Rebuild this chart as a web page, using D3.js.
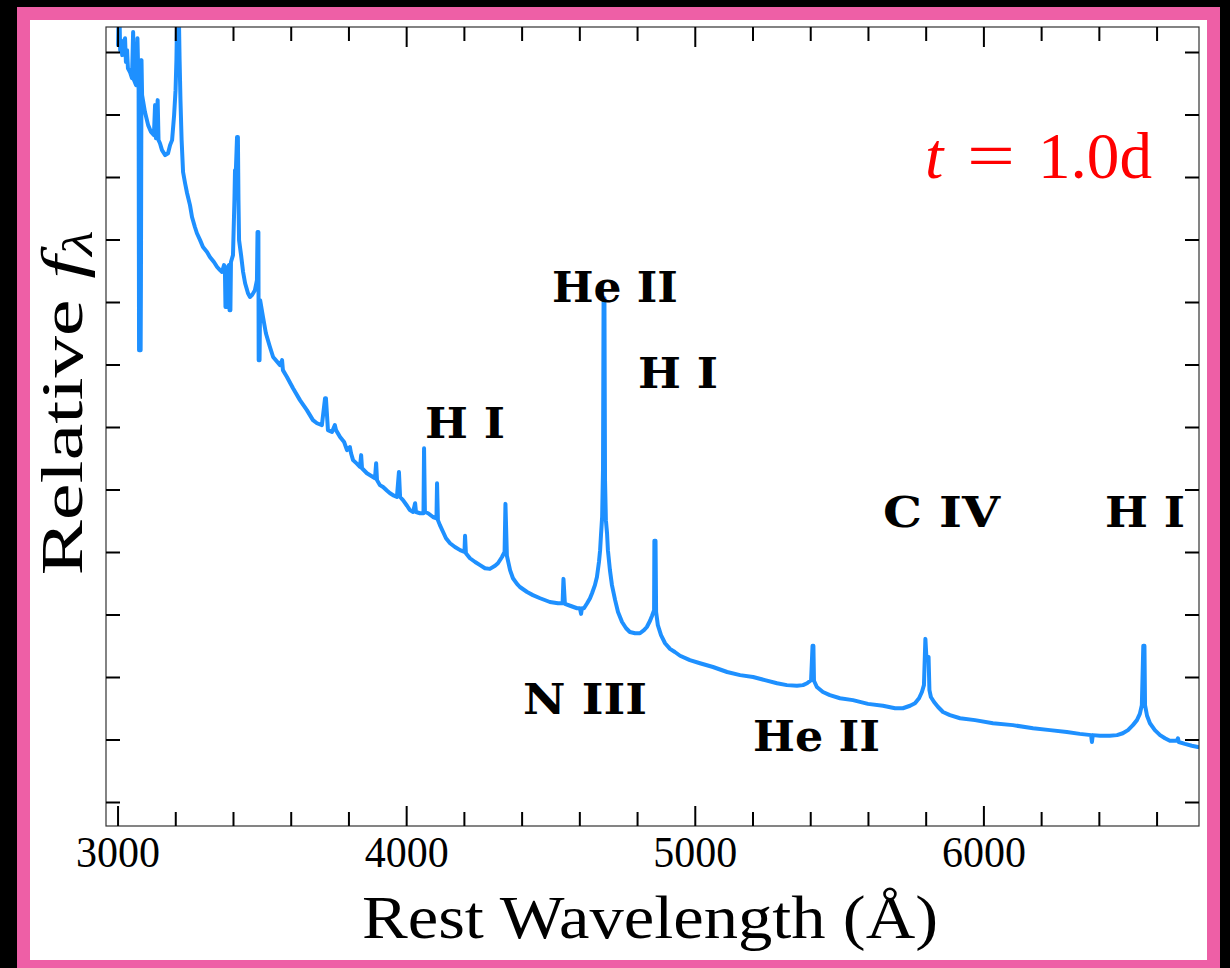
<!DOCTYPE html>
<html><head><meta charset="utf-8">
<script src="https://cdn.jsdelivr.net/npm/d3@7"></script>
<style>body{margin:0;background:#000;} svg{display:block}</style>
</head><body><svg id="c" width="1230" height="968"></svg>
<script>
// ---- data (rest wavelength in Å, relative flux in axis units) ----
const wavelength = [3002,3005,3009,3012,3016,3023,3026,3029,3033,3036,3043,3050,3054,3057,3064,3069,3073,3074.5,3080,3081,3083,3085,3095,3106,3116,3126,3130,3133,3139,3142,3147,3154,3165,3175,3182,3189,3196,3201,3204,3208,3211,3215,3218,3222,3227,3234,3241,3251,3258,3268,3275,3286,3296,3310,3320,3334,3345,3355,3362,3369,3372,3374,3378,3379,3386,3388,3391,3393,3400,3405,3407,3410,3414,3417,3419,3421,3428,3435,3442,3452,3459,3466,3476,3483,3485,3488,3489,3492,3494,3504,3514,3528,3539,3563,3570,3573,3587,3608,3632,3656,3677,3691,3708,3719,3722,3729,3743,3753,3757,3771,3785,3795,3805,3809,3816,3830,3840,3844,3847,3864,3878,3892,3896,3899,3909,3920,3934,3944,3958,3968,3975,3979,3989,4003,4013,4024,4031,4034,4048,4060,4062,4065,4076,4093,4105,4107,4110,4117,4128,4138,4152,4169,4187,4202,4204,4207,4221,4239,4256,4273,4290,4308,4318,4332,4341,4344,4349,4360,4370,4384,4394,4419,4439,4464,4498,4526,4542,4545,4550,4568,4592,4602,4606,4609,4616,4627,4637,4644,4654,4661,4668,4672,4675,4679,4682,4684,4687,4689,4692,4696,4699,4706,4713,4724,4734,4748,4762,4775,4793,4810,4824,4834,4845,4852,4859,4860,4864,4866,4872,4883,4897,4914,4931,4949,4983,5018,5063,5112,5157,5202,5243,5285,5319,5354,5375,5389,5403,5408,5411,5413,5423,5444,5468,5503,5548,5600,5652,5694,5721,5746,5763,5777,5787,5794,5799,5803,5810,5813,5818,5829,5843,5860,5884,5919,5971,6033,6102,6172,6231,6289,6334,6373,6376,6379,6404,6438,6463,6483,6501,6518,6532,6542,6549,6554,6558,6560,6567,6577,6594,6612,6629,6646,6670,6674,6677,6698,6722,6743];
const flux = [12.11,13,12.03,12.19,11.95,12.11,12.22,11.84,12.03,11.74,11.68,11.58,12.32,11.55,11.47,12.22,11.39,7.23,7.23,8.30,11.87,11.31,11.04,10.83,10.72,10.67,11.15,10.62,11.23,10.59,10.54,10.43,10.35,10.38,10.51,10.59,10.99,11.39,11.87,13,13,11.87,11.23,10.59,10.08,9.90,9.74,9.55,9.36,9.20,9.10,8.99,8.88,8.80,8.72,8.64,8.56,8.51,8.48,8.59,8.51,7.92,7.92,8.54,8.59,7.87,7.87,8.64,8.75,9.63,10.11,10.11,10.64,10.64,9.63,8.99,8.75,8.48,8.30,8.14,8.08,8.11,8.19,8.35,9.12,9.12,7.07,7.07,8.03,7.76,7.50,7.28,7.12,6.99,7.07,6.91,6.80,6.62,6.43,6.27,6.11,6.06,6.03,6.46,6.46,5.95,5.92,6.03,5.95,5.84,5.76,5.63,5.68,5.58,5.47,5.41,5.36,5.55,5.34,5.26,5.22,5.18,5.42,5.15,5.07,5.04,4.98,4.94,4.90,4.88,5.28,4.88,4.83,4.74,4.67,4.64,4.78,4.64,4.62,4.62,5.66,4.64,4.62,4.56,4.54,5.10,4.51,4.43,4.32,4.22,4.14,4.08,4.03,4.00,4.26,3.98,3.90,3.84,3.79,3.74,3.73,3.78,3.82,3.92,4.00,4.77,3.94,3.71,3.58,3.49,3.44,3.36,3.31,3.26,3.20,3.18,3.18,3.57,3.17,3.14,3.10,3.10,3.01,3.10,3.10,3.18,3.26,3.34,3.47,3.60,3.84,4.03,4.27,4.56,5.31,8.06,8.06,5.15,4.51,4.30,4.03,3.71,3.47,3.23,3.04,2.88,2.78,2.72,2.70,2.70,2.75,2.80,2.90,2.98,3.07,4.18,4.18,3.04,2.83,2.67,2.54,2.45,2.40,2.34,2.27,2.22,2.16,2.08,2.03,2.00,1.95,1.90,1.87,1.86,1.87,1.90,1.95,2.50,2.50,1.94,1.84,1.76,1.71,1.66,1.63,1.57,1.54,1.50,1.50,1.54,1.58,1.66,1.76,1.87,2.61,2.27,2.32,1.79,1.68,1.60,1.52,1.44,1.39,1.34,1.31,1.26,1.23,1.18,1.15,1.12,1.09,1.07,0.96,1.07,1.06,1.06,1.07,1.10,1.15,1.23,1.31,1.41,1.55,2.50,2.50,1.55,1.38,1.26,1.15,1.07,1.02,0.98,0.98,1.02,0.96,0.93,0.90,0.88];
const xMajorTicks = [3000, 4000, 5000, 6000];
const xMinorTicks = [3200,3400,3600,3800,4200,4400,4600,4800,5200,5400,5600,5800,6200,6400,6600];
const yTicks = [0,1,2,3,4,5,6,7,8,9,10,11,12];
const lineLabels = ["He II", "H I", "H I", "C IV", "H I", "N III", "He II"];
const labelLambda = [4505, 4803, 4065, 5652, 6421, 4405, 5202];
const labelFlux = [8.00, 6.62, 5.82, 4.40, 4.40, 1.41, 0.82];
const epochText = "1.0d";

// ---- layout ----
const W = 1230, H = 968;
const plot = {left: 106, right: 1199, top: 27, bottom: 826};
const labelWidths = [126, 80, 80, 117, 80, 124, 127];
const svg = d3.select("#c");

// frame
svg.append("rect").attr("x",0).attr("y",0).attr("width",W).attr("height",H).attr("fill","#000");
svg.append("rect").attr("x",17).attr("y",7).attr("width",1203).attr("height",H-7).attr("fill","#EE5FA6");
svg.append("rect").attr("x",30).attr("y",20).attr("width",1177).attr("height",940).attr("fill","#fff");

const x = d3.scaleLinear().domain([2960, 6747]).range([plot.left, plot.right]);
const y = d3.scaleLinear().domain([-0.384, 12.4]).range([plot.bottom, plot.top]);

svg.append("clipPath").attr("id","clip").append("rect")
  .attr("x",plot.left).attr("y",plot.top).attr("width",plot.right-plot.left).attr("height",plot.bottom-plot.top);

const pts = wavelength.map((w,i)=>[w, flux[i]]);
svg.append("path").datum(pts)
  .attr("clip-path","url(#clip)")
  .attr("fill","none").attr("stroke","#1E90FF").attr("stroke-width",4)
  .attr("stroke-linejoin","round").attr("stroke-linecap","round")
  .attr("d", d3.line().x(d=>x(d[0])).y(d=>y(d[1])));

// spines
svg.append("rect").attr("x",plot.left).attr("y",plot.top)
  .attr("width",plot.right-plot.left).attr("height",plot.bottom-plot.top)
  .attr("fill","none").attr("stroke","#333").attr("stroke-width",1.2);

function styleAxis(g){
  g.select(".domain").remove();
  g.selectAll(".tick line").attr("stroke","#000").attr("stroke-width",2);
}
const serif = "'Liberation Serif','Times New Roman',serif";
// bottom major
svg.append("g").attr("transform",`translate(0,${plot.bottom})`)
  .call(d3.axisBottom(x).tickValues(xMajorTicks).tickSize(-20).tickPadding(10).tickFormat(d3.format("d")))
  .call(styleAxis)
  .call(g=>g.selectAll(".tick text").attr("font-family",serif).attr("font-size",44).attr("fill","#000")
    .attr("textLength",84).attr("lengthAdjust","spacingAndGlyphs"));
svg.append("g").attr("transform",`translate(0,${plot.bottom})`)
  .call(d3.axisBottom(x).tickValues(xMinorTicks).tickSize(-14).tickFormat(""))
  .call(styleAxis);
// top
svg.append("g").attr("transform",`translate(0,${plot.top})`)
  .call(d3.axisTop(x).tickValues(xMajorTicks).tickSize(-20).tickFormat(""))
  .call(styleAxis);
svg.append("g").attr("transform",`translate(0,${plot.top})`)
  .call(d3.axisTop(x).tickValues(xMinorTicks).tickSize(-14).tickFormat(""))
  .call(styleAxis);
// left/right
svg.append("g").attr("transform",`translate(${plot.left},0)`)
  .call(d3.axisLeft(y).tickValues(yTicks).tickSize(-14).tickFormat(""))
  .call(styleAxis);
svg.append("g").attr("transform",`translate(${plot.right},0)`)
  .call(d3.axisRight(y).tickValues(yTicks).tickSize(-14).tickFormat(""))
  .call(styleAxis);

// axis titles
svg.append("text").attr("x",650).attr("y",938).attr("text-anchor","middle")
  .attr("font-family",serif).attr("font-size",62).attr("fill","#000")
  .attr("textLength",576).attr("lengthAdjust","spacingAndGlyphs")
  .text("Rest Wavelength (Å)");

const yl = svg.append("text").attr("transform","translate(82,403) rotate(-90)")
  .attr("text-anchor","middle").attr("font-family",serif).attr("font-size",60).attr("fill","#000")
  .attr("textLength",345).attr("lengthAdjust","spacingAndGlyphs");
yl.append("tspan").text("Relative ");
yl.append("tspan").attr("font-style","italic").text("f");
yl.append("tspan").attr("font-style","italic").attr("font-size",42).attr("dy",10).text("λ");

// line labels
svg.append("g").selectAll("text").data(lineLabels).join("text")
  .attr("x",(d,i)=>x(labelLambda[i])).attr("y",(d,i)=>y(labelFlux[i]))
  .attr("font-family","'DejaVu Serif',serif").attr("font-weight","bold")
  .attr("font-size",43).attr("fill","#000")
  .attr("textLength",(d,i)=>labelWidths[i]).attr("lengthAdjust","spacingAndGlyphs")
  .text(d=>d);

// epoch
const ep = svg.append("g").attr("fill","#FF0000").attr("font-family",serif).attr("font-size",66);
ep.append("text").attr("x",925).attr("y",178).attr("font-style","italic").text("t");
ep.append("text").attr("x",967).attr("y",178).attr("textLength",48).attr("lengthAdjust","spacingAndGlyphs").text("=");
ep.append("text").attr("x",1038).attr("y",178).attr("textLength",114).attr("lengthAdjust","spacingAndGlyphs").text(epochText);
</script></body></html>
